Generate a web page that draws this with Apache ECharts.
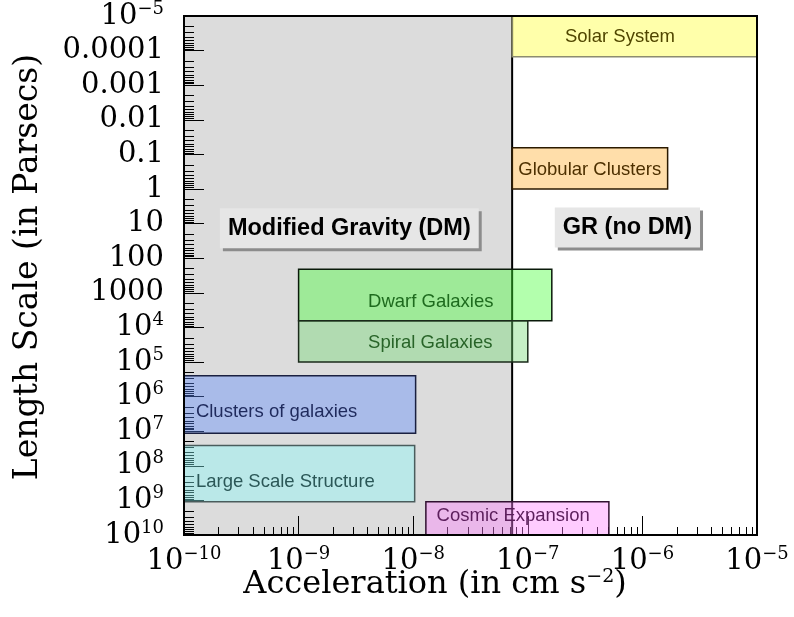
<!DOCTYPE html>
<html><head><meta charset="utf-8">
<script src="https://cdn.jsdelivr.net/npm/echarts@6/dist/echarts.min.js"></script>
<style>html,body{margin:0;padding:0;background:#fff}#c{width:794px;height:617px}</style>
</head><body><div id="c"></div>
<script>
// ---- axis ranges & tick labels ----
const xRange = [1e-10, 1e-5];
const yRange = [1e-5, 1e10];
const xTickLabels = ['10^−10','10^−9','10^−8','10^−7','10^−6','10^−5'];
const yTickLabels = ['10^−5','0.0001','0.001','0.01','0.1','1','10','100','1000','10^4','10^5','10^6','10^7','10^8','10^9','10^10'];

// ---- regions: acceleration range (cm s^-2) x length range (pc) ----
const regionNames = ['Solar System','Globular Clusters','Dwarf Galaxies','Spiral Galaxies','Clusters of galaxies','Large Scale Structure','Cosmic Expansion'];
const accMin = [7.3e-8, 7.3e-8, 1e-9, 1e-9, 1e-10, 1e-10, 1.29e-8];
const accMax = [1e-5, 1.66e-6, 1.62e-7, 1.0e-7, 1.05e-8, 1.03e-8, 5.1e-7];
const lenMin = [1e-5, 0.064, 210, 6400, 2.5e5, 2.6e7, 1.1e9];
const lenMax = [1.5e-4, 1.0, 6400, 1e5, 1.15e7, 1.1e9, 1e10];
const labelAcc = [2.11e-7, 8.26e-8, 4.04e-9, 4.04e-9, 1.27e-10, 1.27e-10, 1.6e-8];
const labelLen = [3.97e-5, 0.28, 1807, 2.82e4, 2.73e6, 2.88e8, 2.82e9];

// ---- boundary between modified gravity / GR regimes ----
const boundaryAcc = 7.3e-8;

// ---- regime annotations ----
const regimeNames = ['Modified Gravity (DM)', 'GR (no DM)'];
const regimeAcc = [2.77e-9, 7.4e-7];
const regimeLen = [13.7, 13];

// ---- styles ----
const regionFill = ['rgba(255,255,42,0.4)','rgba(255,172,42,0.4)','rgba(65,255,50,0.4)','rgba(112,217,112,0.4)','rgba(92,137,252,0.4)','rgba(135,250,250,0.4)','rgba(255,128,255,0.4)'];
const regionStroke = ['#8c8c70','#2b1a00','#0a1a0a','#1a2a1a','#1a2040','#4a5c5c','#301030'];
const regionText = ['#504600','#4d3000','#1e6b1e','#286428','#1f2a5c','#2b5757','#5c1f5c'];

const minorVals = (lo, hi) => { const out = []; for (let e = lo; e < hi; e++) for (let k = 2; k <= 9; k++) out.push(+(k * Math.pow(10, e)).toPrecision(3)); return out; };
const xMinor = minorVals(-10, -5);
const yMinor = minorVals(-5, 10);

const mk = s => { const p = s.split('^'); return p.length > 1 ? '{b|' + p[0] + '}{s|' + p[1] + '}' : '{b|' + s + '}'; };
const tickRich = {
  b: { fontFamily: 'DejaVu Serif', fontSize: 29, color: '#000', lineHeight: 32 },
  s: { fontFamily: 'DejaVu Serif', fontSize: 18, color: '#000', lineHeight: 22, verticalAlign: 'top' }
};
const expOf = v => Math.round(Math.log10(v));

const chart = echarts.init(document.getElementById('c'), null, { renderer: 'canvas' });
const rectOf = (api, x0, x1, y0, y1) => {
  const a = api.coord([x0, y0]), b = api.coord([x1, y1]);
  return { x: Math.min(a[0], b[0]), y: Math.min(a[1], b[1]), width: Math.abs(b[0] - a[0]), height: Math.abs(b[1] - a[1]) };
};

chart.setOption({
  animation: false,
  grid: { left: 184, right: 37, top: 16, bottom: 82, show: true, borderColor: '#000', borderWidth: 2, z: 5 },
  xAxis: [
    { type: 'log', logBase: 10, min: xRange[0], max: xRange[1], interval: 1, position: 'bottom', z: 2,
      axisLine: { show: true, onZero: false, lineStyle: { color: '#000', width: 2 } },
      axisTick: { show: true, inside: true, length: 19, lineStyle: { color: '#000', width: 1 } },
      axisLabel: { margin: 10, formatter: v => mk(xTickLabels[expOf(v) + 10]), rich: tickRich },
      splitLine: { show: false } },
    { type: 'log', logBase: 10, min: xRange[0], max: xRange[1], position: 'bottom', z: 2,
      axisLine: { show: false }, axisLabel: { show: false }, splitLine: { show: false },
      axisTick: { show: true, inside: true, length: 8, customValues: xMinor, lineStyle: { color: '#000', width: 1 } } }
  ],
  yAxis: [
    { type: 'log', logBase: 10, min: yRange[0], max: yRange[1], interval: 1, inverse: true, position: 'left', z: 2,
      axisLine: { show: true, onZero: false, lineStyle: { color: '#000', width: 2 } },
      axisTick: { show: true, inside: true, length: 20, lineStyle: { color: '#000', width: 1 } },
      axisLabel: { margin: 20, formatter: v => mk(yTickLabels[expOf(v) + 5]), rich: tickRich },
      splitLine: { show: false } },
    { type: 'log', logBase: 10, min: yRange[0], max: yRange[1], inverse: true, position: 'left', z: 2,
      axisLine: { show: false }, axisLabel: { show: false }, splitLine: { show: false },
      axisTick: { show: true, inside: true, length: 10, customValues: yMinor, lineStyle: { color: '#000', width: 1 } } }
  ],
  graphic: [
    { type: 'text', x: 435, y: 585, z: 10,
      style: { text: '{t|Acceleration (in cm s}{s|−2}{t|)}', align: 'center', verticalAlign: 'middle',
        rich: { t: { fontFamily: 'DejaVu Serif', fontSize: 32, color: '#000', lineHeight: 35 },
                s: { fontFamily: 'DejaVu Serif', fontSize: 19, color: '#000', lineHeight: 22, verticalAlign: 'top' } } } },
    { type: 'text', x: 28, y: 267, rotation: Math.PI / 2, z: 10,
      style: { text: 'Length Scale (in Parsecs)', font: '33px "DejaVu Serif"', fill: '#000', align: 'center', verticalAlign: 'middle' } }
  ],
  series: [
    { type: 'custom', name: 'regime', xAxisIndex: 0, yAxisIndex: 0, z: 1, silent: true,
      encode: { x: [0, 1], y: [2, 3] },
      data: [[xRange[0], boundaryAcc, yRange[0], yRange[1]]],
      renderItem: (params, api) => {
        const r = rectOf(api, api.value(0), api.value(1), api.value(2), api.value(3));
        return { type: 'group', children: [
          { type: 'rect', shape: r, style: { fill: '#dcdcdc' } },
          { type: 'line', shape: { x1: r.x + r.width, y1: r.y, x2: r.x + r.width, y2: r.y + r.height }, style: { stroke: '#000', lineWidth: 2 } }
        ] };
      } },
    { type: 'custom', name: 'regions', xAxisIndex: 0, yAxisIndex: 0, z: 3, silent: true,
      encode: { x: [0, 1, 4], y: [2, 3, 5] },
      data: regionNames.map((n, i) => [accMin[i], accMax[i], lenMin[i], lenMax[i], labelAcc[i], labelLen[i]]),
      renderItem: (params, api) => {
        const i = params.dataIndex;
        const r = rectOf(api, api.value(0), api.value(1), api.value(2), api.value(3));
        const lp = api.coord([api.value(4), api.value(5)]);
        return { type: 'group', children: [
          { type: 'rect', shape: r, style: { fill: regionFill[i], stroke: regionStroke[i], lineWidth: 1.5 } },
          { type: 'text', x: lp[0], y: lp[1], style: { text: regionNames[i], fill: regionText[i], font: '18.5px "Liberation Sans"', align: 'left', verticalAlign: 'middle' } }
        ] };
      } },
    { type: 'custom', name: 'regimeLabels', xAxisIndex: 0, yAxisIndex: 0, z: 4, silent: true,
      encode: { x: 0, y: 1 },
      data: regimeNames.map((n, i) => [regimeAcc[i], regimeLen[i]]),
      renderItem: (params, api) => {
        const i = params.dataIndex;
        const p = api.coord([api.value(0), api.value(1)]);
        const base = { text: regimeNames[i], font: 'bold 23.5px "Liberation Sans"', align: 'center', verticalAlign: 'middle', padding: [8, 8, 8, 8] };
        return { type: 'group', children: [
          { type: 'text', x: p[0] + 3, y: p[1] + 3, style: Object.assign({}, base, { fill: 'rgba(0,0,0,0)', backgroundColor: '#8c8c8c' }) },
          { type: 'text', x: p[0], y: p[1], style: Object.assign({}, base, { fill: '#000', backgroundColor: '#e6e6e6' }) }
        ] };
      } }
  ]
});
</script>
</body></html>
